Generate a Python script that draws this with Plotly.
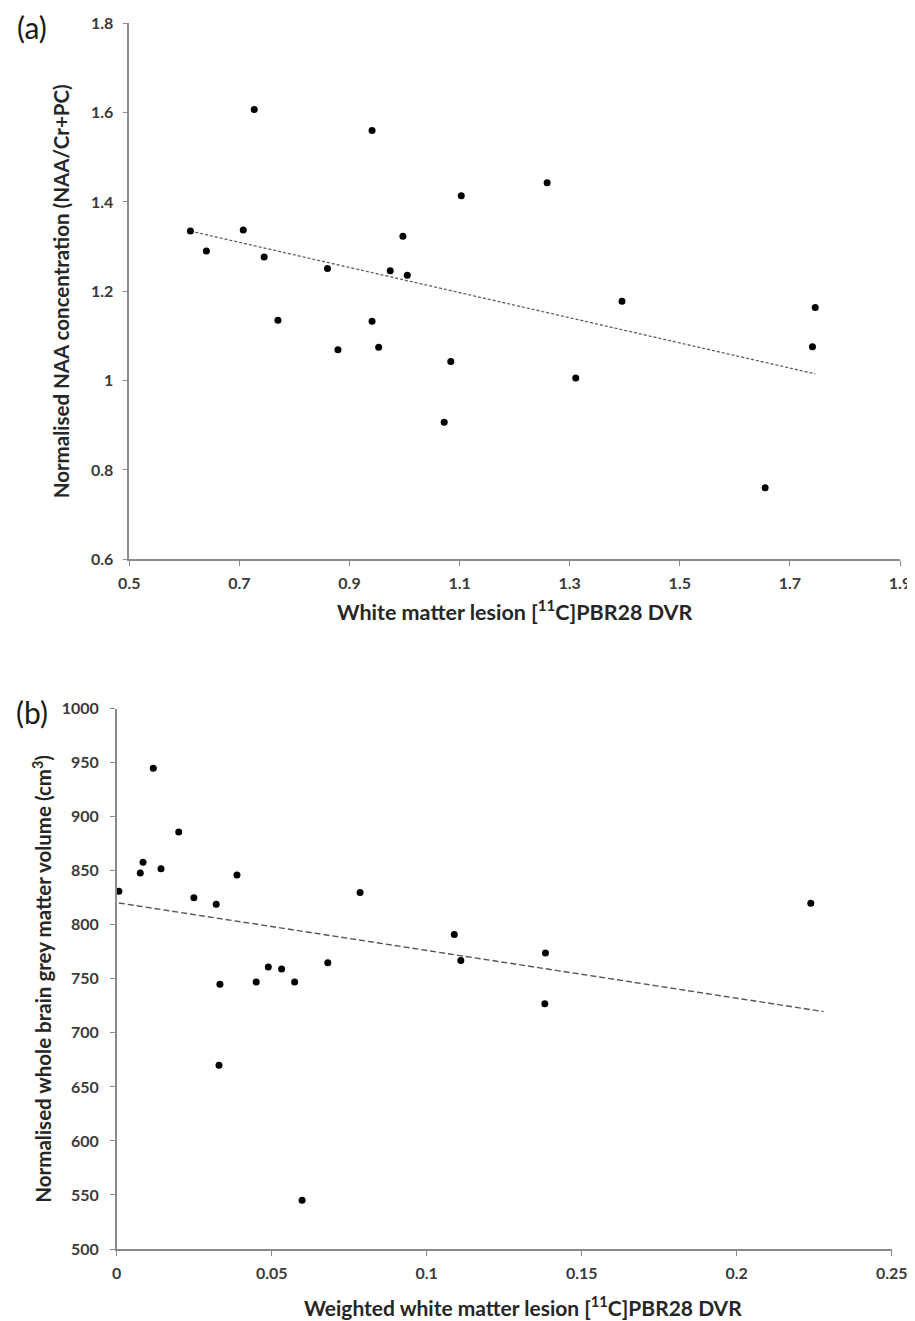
import numpy as np
import plotly.graph_objects as go

# ---- Panel (a) data ----
a_x = [0.611, 0.640, 0.727, 0.707, 0.745, 0.770, 0.860, 0.879, 0.941, 0.941,
       0.953, 0.974, 0.997, 1.005, 1.072, 1.084, 1.103, 1.259, 1.311, 1.395,
       1.655, 1.741, 1.746]
a_y = [1.335, 1.290, 1.607, 1.337, 1.277, 1.135, 1.251, 1.069, 1.560, 1.133,
       1.075, 1.246, 1.323, 1.236, 0.907, 1.043, 1.414, 1.443, 1.006, 1.178,
       0.760, 1.076, 1.164]

# ---- Panel (b) data ----
b_x = [0.0007, 0.0076, 0.0085, 0.0118, 0.0143, 0.0200, 0.0249, 0.0321, 0.0330,
       0.0333, 0.0388, 0.0450, 0.0489, 0.0532, 0.0574, 0.0598, 0.0681, 0.0785,
       0.1089, 0.1110, 0.1381, 0.1383, 0.2239]
b_y = [831, 848, 858, 945, 852, 886, 825, 819, 670,
       745, 846, 747, 761, 759, 747, 545, 765, 830,
       791, 767, 727, 774, 820]

a_xticks = [0.5, 0.7, 0.9, 1.1, 1.3, 1.5, 1.7, 1.9]
a_yticks = [0.6, 0.8, 1.0, 1.2, 1.4, 1.6, 1.8]
a_yticklabels = ["0.6", "0.8", "1", "1.2", "1.4", "1.6", "1.8"]
b_xticks = [0, 0.05, 0.1, 0.15, 0.2, 0.25]
b_xticklabels = ["0", "0.05", "0.1", "0.15", "0.2", "0.25"]
b_yticks = [500, 550, 600, 650, 700, 750, 800, 850, 900, 950, 1000]

# panel (b) trendline as drawn in the figure (intercept, slope, x extent)
b_trend_intercept = 820.5
b_trend_slope = -442.0
b_trend_x = [0.0007, 0.228]

# panel (a) trendline: linear fit of the data
a_coef = np.polyfit(a_x, a_y, 1)
a_tx = np.array([min(a_x), max(a_x)])
b_tx = np.array(b_trend_x)
b_ty = b_trend_intercept + b_trend_slope * b_tx

FONT = "Lato"
TICK_COLOR = "#3a3a3a"
TITLE_COLOR = "#262626"
AXIS_COLOR = "#8a8a8a"

# page body has an 8px margin; the figure is sized to fill the window from there
W, H = 907, 1313
OFF = 8


def px(x):
    return (x - OFF) / W


def py(y):
    return 1 - (y - OFF) / H


fig = go.Figure()

fig.add_trace(go.Scatter(x=a_tx, y=np.polyval(a_coef, a_tx), mode="lines",
                         line=dict(color="#555555", width=1.2, dash="3px,2px"),
                         xaxis="x", yaxis="y", showlegend=False, hoverinfo="skip"))
fig.add_trace(go.Scatter(x=a_x, y=a_y, mode="markers",
                         marker=dict(color="black", size=7),
                         xaxis="x", yaxis="y", showlegend=False))

fig.add_trace(go.Scatter(x=b_tx, y=b_ty, mode="lines",
                         line=dict(color="#555555", width=1.4, dash="6px,3px"),
                         xaxis="x2", yaxis="y2", showlegend=False, hoverinfo="skip"))
fig.add_trace(go.Scatter(x=b_x, y=b_y, mode="markers",
                         marker=dict(color="black", size=7),
                         xaxis="x2", yaxis="y2", showlegend=False))

axis_common = dict(showgrid=False, zeroline=False, showline=True, linecolor=AXIS_COLOR,
                   linewidth=1.5, ticks="outside", ticklen=5, tickcolor=AXIS_COLOR,
                   tickwidth=1, automargin=False,
                   tickfont=dict(family=FONT, size=16, color=TICK_COLOR, weight="bold"))

fig.update_layout(
    width=W, height=H,
    margin=dict(l=0, r=0, t=0, b=0),
    paper_bgcolor="white", plot_bgcolor="white",
    font=dict(family=FONT),
    xaxis=dict(domain=[px(129.3), px(900)], range=[0.5, 1.9], tickvals=a_xticks,
               ticktext=[f"{v:.1f}" for v in a_xticks], anchor="y", ticklabelstandoff=4,
               title=dict(text="White matter lesion [<sup>11</sup>C]PBR28 DVR",
                          font=dict(family=FONT, size=21.5, color=TITLE_COLOR, weight="bold"),
                          standoff=14),
               **axis_common),
    yaxis=dict(domain=[py(559.3), py(23.3)], range=[0.6, 1.8], tickvals=a_yticks,
               ticktext=a_yticklabels, anchor="x", ticklabelstandoff=6,
               title=dict(text="Normalised NAA concentration (NAA/Cr+PC)",
                          font=dict(family=FONT, size=20.5, color=TITLE_COLOR, weight="bold"),
                          standoff=16),
               **axis_common),
    xaxis2=dict(domain=[px(116.7), px(891.7)], range=[0, 0.25], tickvals=b_xticks,
                ticktext=b_xticklabels, anchor="y2", ticklabelstandoff=4,
                **axis_common),
    yaxis2=dict(domain=[py(1249), py(708.7)], range=[500, 1000], tickvals=b_yticks,
                anchor="x2", ticklabelstandoff=8,
                title=dict(text="Normalised whole brain grey matter volume (cm<sup>3</sup>)",
                           font=dict(family=FONT, size=20.5, color=TITLE_COLOR, weight="bold"),
                           standoff=4),
                **axis_common),
    annotations=[
        dict(text="(a)", x=px(32), y=py(26.5), xref="paper", yref="paper",
             showarrow=False, font=dict(family=FONT, size=30, color="#1a1a1a"),
             xanchor="center", yanchor="middle"),
        dict(text="(b)", x=px(32), y=py(712), xref="paper", yref="paper",
             showarrow=False, font=dict(family=FONT, size=30, color="#1a1a1a"),
             xanchor="center", yanchor="middle"),
        dict(text="Weighted white matter lesion [<sup>11</sup>C]PBR28 DVR",
             x=px(523), y=py(1306), xref="paper", yref="paper", showarrow=False,
             font=dict(family=FONT, size=21, color=TITLE_COLOR, weight="bold"),
             xanchor="center", yanchor="middle"),
    ],
)

fig.write_html("out.html")
